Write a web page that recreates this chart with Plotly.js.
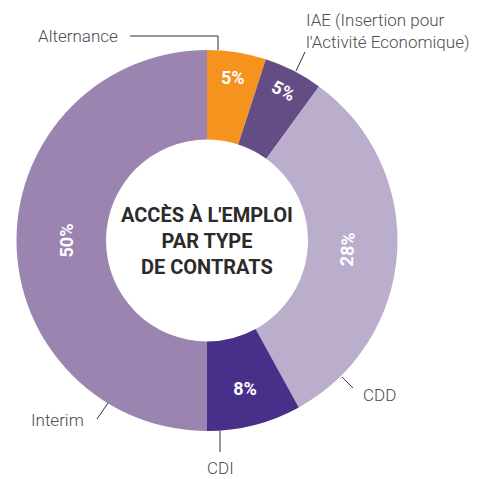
<!DOCTYPE html>
<html>
<head>
<meta charset="utf-8">
<script src="https://cdn.plot.ly/plotly-3.0.1.min.js"></script>
<style>html,body{margin:0;padding:0;background:#fff}#chart{width:478px;height:479px}</style>
</head>
<body>
<div id="chart"></div>
<script>
// Categories (clockwise from 12 o'clock)
const categories = ["Alternance", "IAE (Insertion pour l'Activité Economique)", "CDD", "CDI", "Interim"];
// Arc shares as drawn in the picture (percent of the ring)
const arcShares = [5, 5, 32, 8, 50];
// Percent labels as printed on the chart
const printedLabels = ["5%", "5%", "28%", "8%", "50%"];
const colors = ["#F6921E", "#644D85", "#BBADCC", "#48308A", "#9B84B0"];
// Which labels are printed horizontally vs. following the ring
const horizontalLabel = [true, false, false, true, false];

const W = 478, H = 479;
const px = x => x / W;
const py = y => 1 - y / H;
const cx = 207, cy = 240.5, R = 190.5;
const domain = {x: [px(cx - R), px(cx + R)], y: [py(cy + R), py(cy - R)]};

const base = {
  type: 'pie', values: arcShares, labels: categories, sort: false,
  direction: 'clockwise', rotation: 0, hole: 0.53, domain: domain,
  textinfo: 'text', textposition: 'inside', hoverinfo: 'skip',
  textfont: {family: 'Roboto', size: 18, color: '#ffffff', weight: 700},
  showlegend: false
};
const t1 = Object.assign({}, base, {
  marker: {colors: colors, line: {width: 0}},
  text: printedLabels.map((t, i) => horizontalLabel[i] ? t : ''),
  insidetextorientation: 'horizontal'
});
const t2 = Object.assign({}, base, {
  marker: {colors: colors.map(() => 'rgba(0,0,0,0)'), line: {width: 0}},
  text: printedLabels.map((t, i) => horizontalLabel[i] ? '' : t),
  insidetextorientation: 'tangential'
});

const lblFont = {family: 'Roboto', size: 17, color: '#4d4d4d', weight: 300};
const ann = (x, y, text, xanchor, extra) => Object.assign({
  xref: 'paper', yref: 'paper', x: px(x), y: py(y), text: text, showarrow: false,
  xanchor: xanchor, yanchor: 'middle', font: lblFont, align: 'left'
}, extra || {});

const annotations = [
  ann(120, 36, categories[0], 'right'),
  ann(304, 31, "IAE (Insertion pour<br>l'Activité Economique)", 'left'),
  ann(361, 395, categories[2], 'left'),
  ann(220, 468, categories[3], 'center'),
  ann(86, 420, categories[4], 'right'),
  {xref: 'paper', yref: 'paper', x: px(cx), y: py(cy + 1), showarrow: false,
   text: "ACCÈS À L'EMPLOI<br>PAR TYPE<br>DE CONTRATS",
   font: {family: 'Roboto', size: 20, color: '#2b2b2b', weight: 700}, align: 'center'}
];

const ln = {color: '#333333', width: 1};
const shapes = [
  {type: 'path', xref: 'paper', yref: 'paper', line: ln,
   path: `M ${px(130)} ${py(36)} L ${px(218)} ${py(36)} L ${px(218)} ${py(50)}`},
  {type: 'line', xref: 'paper', yref: 'paper', line: ln, x0: px(305), y0: py(52), x1: px(296), y1: py(71)},
  {type: 'line', xref: 'paper', yref: 'paper', line: ln, x0: px(342), y0: py(377), x1: px(353), y1: py(388)},
  {type: 'line', xref: 'paper', yref: 'paper', line: ln, x0: px(220), y0: py(431), x1: px(220), y1: py(452)},
  {type: 'line', xref: 'paper', yref: 'paper', line: ln, x0: px(97), y0: py(419), x1: px(108), y1: py(403)}
];

Plotly.newPlot('chart', [t1, t2], {
  width: W, height: H, margin: {l: 0, r: 0, t: 0, b: 0},
  paper_bgcolor: '#ffffff', annotations: annotations, shapes: shapes
}, {staticPlot: true});
</script>
</body>
</html>
